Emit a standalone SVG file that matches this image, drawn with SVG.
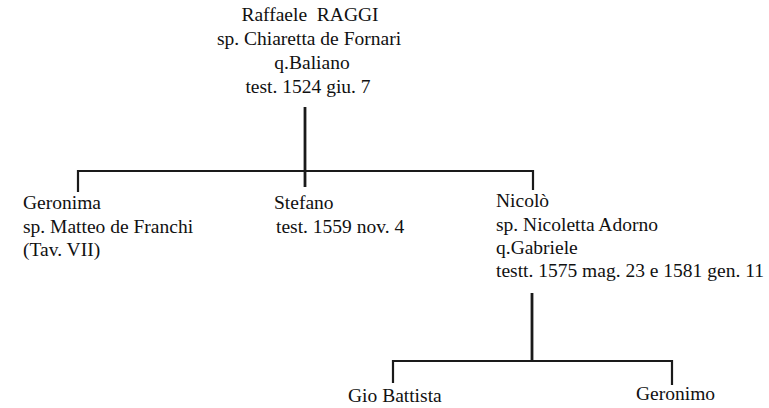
<svg xmlns="http://www.w3.org/2000/svg" width="769" height="408" viewBox="0 0 769 408">
<style>
text { font-family: "Liberation Serif", "Times New Roman", serif; font-size: 19.5px; fill: #111; white-space: pre; }
.c { text-anchor: middle; }
.ln { stroke: #1a1a1a; stroke-width: 2.2; fill: none; stroke-linecap: butt; }
</style>
<rect width="769" height="408" fill="#fff"/>
<g id="connectors">
  <line class="ln" x1="305" y1="107" x2="305" y2="187" style="stroke-width:2.8"/>
  <polyline class="ln" points="78,192 78,171 533,171 533,190"/>
  <line class="ln" x1="532" y1="293" x2="532" y2="361" style="stroke-width:2.8"/>
  <polyline class="ln" points="393,383 393,361 672,361 672,385"/>
</g>
<g id="raffaele">
  <text class="c" x="310" y="21">Raffaele  RAGGI</text>
  <text class="c" x="309" y="45">sp. Chiaretta de Fornari</text>
  <text class="c" x="312" y="69">q.Baliano</text>
  <text class="c" x="308" y="93">test. 1524 giu. 7</text>
</g>
<g id="geronima">
  <text x="23" y="209">Geronima</text>
  <text x="23" y="233">sp. Matteo de Franchi</text>
  <text x="23" y="256">(Tav. VII)</text>
</g>
<g id="stefano">
  <text x="274" y="209">Stefano</text>
  <text x="276" y="233">test. 1559 nov. 4</text>
</g>
<g id="nicolo">
  <text x="496" y="207">Nicolò</text>
  <text x="496" y="231">sp. Nicoletta Adorno</text>
  <text x="496" y="254">q.Gabriele</text>
  <text x="496" y="277">testt. 1575 mag. 23 e 1581 gen. 11</text>
</g>
<g id="giobattista">
  <text x="348" y="402">Gio Battista</text>
</g>
<g id="geronimo">
  <text x="636" y="400">Geronimo</text>
</g>
</svg>
